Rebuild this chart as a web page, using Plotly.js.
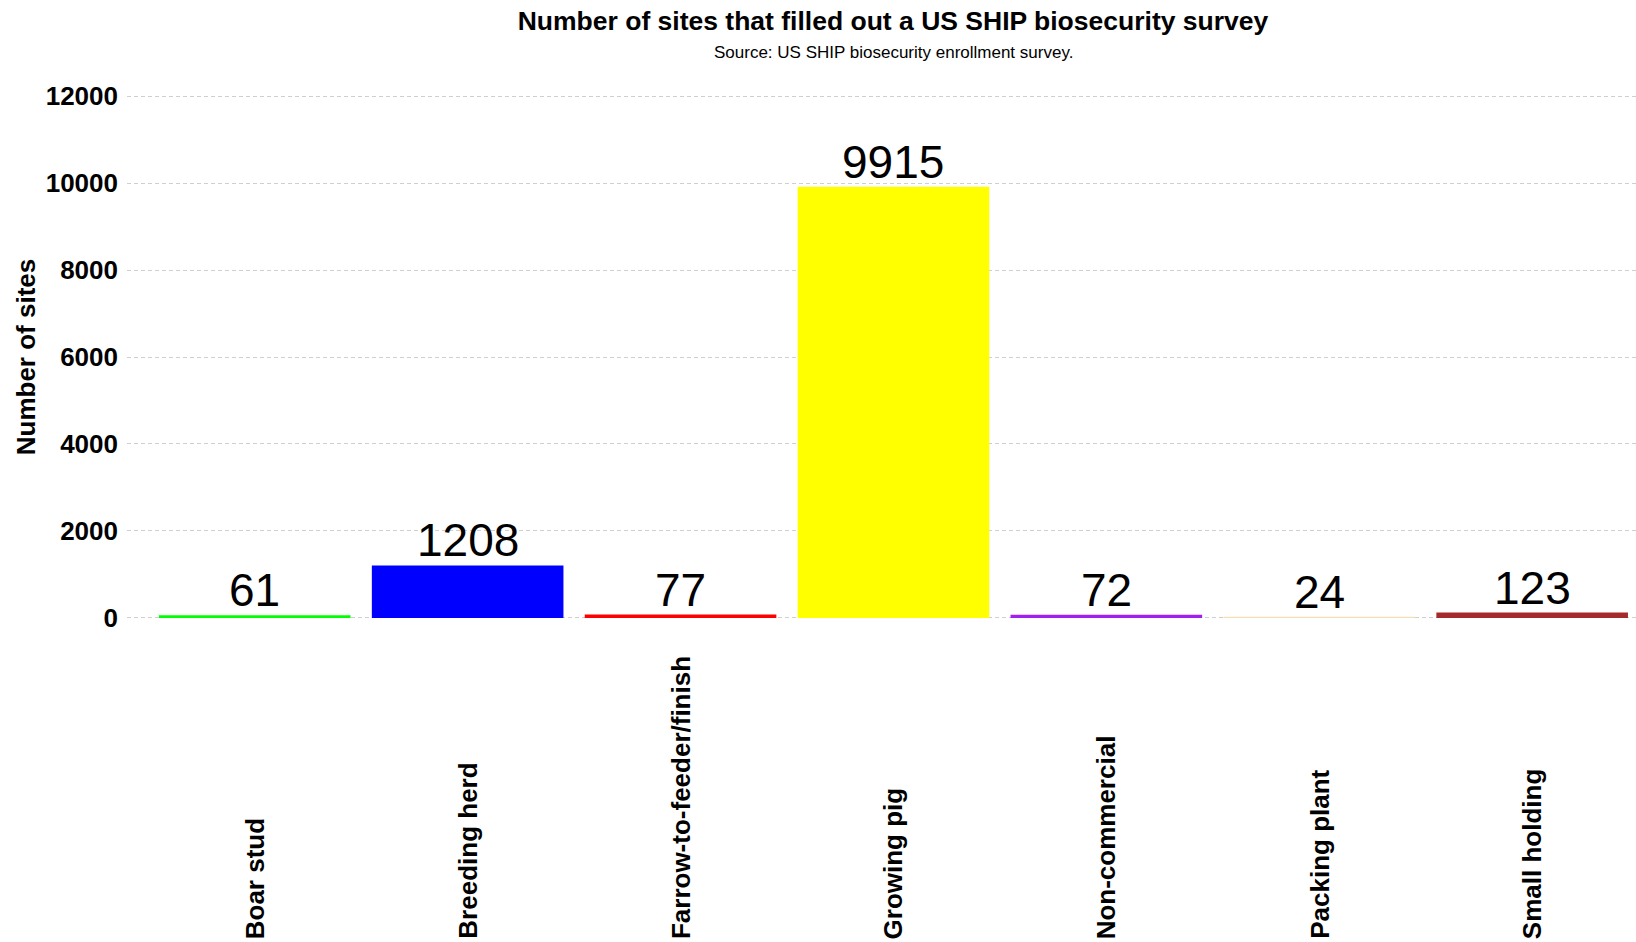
<!DOCTYPE html>
<html>
<head>
<meta charset="utf-8">
<script src="https://cdn.plot.ly/plotly-3.0.1.min.js"></script>
<style>html,body{margin:0;padding:0;background:#fff;}#chart{width:1636px;height:942px;}</style>
</head>
<body>
<div id="chart"></div>
<script>
const categories = ["Boar stud", "Breeding herd", "Farrow-to-feeder/finish", "Growing pig", "Non-commercial", "Packing plant", "Small holding"];
const siteCounts = [61, 1208, 77, 9915, 72, 24, 123];
const barColors = ["#00ff00", "#0000ff", "#ff0000", "#ffff00", "#a020f0", "#f5deb3", "#a52a2a"];
const yTickValues = [0, 2000, 4000, 6000, 8000, 10000, 12000];
const titleText = "Number of sites that filled out a US SHIP biosecurity survey";
const subtitleText = "Source: US SHIP biosecurity enrollment survey.";
const yTitleText = "Number of sites";

const FONT = "Liberation Sans, Arial, Helvetica, sans-serif";

const trace = {
  type: "bar",
  x: categories,
  y: siteCounts,
  marker: {color: barColors, line: {width: 0}},
  hoverinfo: "x+y"
};

const valueAnnotations = categories.map((c, i) => ({
  x: c, xref: "x", y: siteCounts[i], yref: "y",
  text: String(siteCounts[i]), showarrow: false,
  xanchor: "center", yanchor: "bottom", borderpad: 0, yshift: -2,
  font: {family: FONT, size: 46, color: "#000"}
}));

const xLabelAnnotations = categories.map(c => ({
  x: c, xref: "x", y: -0.5157, yref: "paper",
  text: "<b>" + c + "</b>", showarrow: false, textangle: -90,
  xanchor: "center", yanchor: "bottom", borderpad: 0,
  font: {family: FONT, size: 26, color: "#000"}
}));

const layout = {
  width: 1636, height: 942,
  paper_bgcolor: "#fff", plot_bgcolor: "#fff",
  margin: {l: 127, r: 0, t: 70, b: 298},
  showlegend: false,
  bargap: 0.1,
  title: {
    text: "<b>" + titleText + "</b>",
    font: {family: FONT, size: 26.5, color: "#000"},
    xref: "container", x: 893 / 1636, xanchor: "center",
    yref: "container", y: 1 - 21 / 942, yanchor: "middle"
  },
  xaxis: {
    type: "category",
    range: [-0.6, 6.4877],
    showgrid: false, zeroline: false, showline: false,
    showticklabels: false, ticks: "", fixedrange: true
  },
  yaxis: {
    range: [-600, 12600],
    tickvals: yTickValues,
    ticktext: yTickValues.map(v => "<b>" + v + "</b>"),
    tickfont: {family: FONT, size: 26, color: "#000"},
    ticks: "",
    ticklabelstandoff: 8,
    showgrid: true, gridcolor: "#cfcfcf", gridwidth: 1, griddash: "4px,3px",
    zeroline: false, showline: false,
    automargin: false,
    title: {text: "<b>" + yTitleText + "</b>", font: {family: FONT, size: 26, color: "#000"}, standoff: 2}
  },
  annotations: [
    {
      text: subtitleText, xref: "paper", yref: "paper",
      x: (893 - 127) / 1509, y: 1 + (70 - 52) / 574,
      xanchor: "center", yanchor: "middle", showarrow: false,
      font: {family: FONT, size: 17, color: "#000"}
    }
  ].concat(valueAnnotations, xLabelAnnotations)
};

Plotly.newPlot("chart", [trace], layout, {displayModeBar: false, staticPlot: true});
</script>
</body>
</html>
